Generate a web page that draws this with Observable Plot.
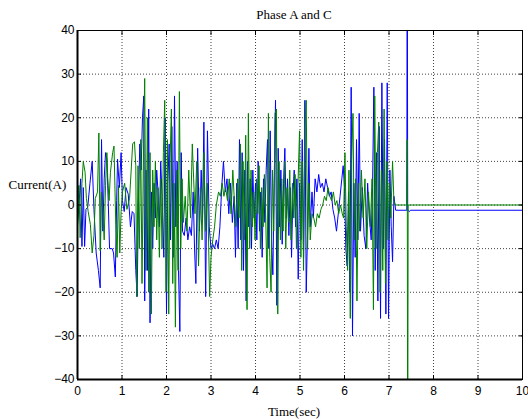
<!DOCTYPE html>
<html>
<head>
<meta charset="utf-8">
<script src="https://cdn.jsdelivr.net/npm/d3@7"></script>
<script src="https://cdn.jsdelivr.net/npm/@observablehq/plot@0.6"></script>
<style>
  html, body { margin: 0; padding: 0; background: #fff; }
  #chart svg { display: block; }
</style>
</head>
<body>
<div id="chart"></div>
<script>
const xTicks = [0, 1, 2, 3, 4, 5, 6, 7, 8, 9, 10];
const yTicks = [-40, -30, -20, -10, 0, 10, 20, 30, 40];

// Phase A (blue)
const timeA = [0.00,0.04,0.07,0.10,0.13,0.16,0.19,0.23,0.28,0.33,0.37,0.42,0.47,0.51,0.54,0.57,0.60,0.63,0.66,0.69,0.72,0.78,0.81,0.85,0.88,0.90,0.94,0.98,1.01,1.05,1.09,1.14,1.19,1.23,1.27,1.31,1.34,1.37,1.40,1.43,1.46,1.49,1.51,1.54,1.57,1.60,1.63,1.66,1.69,1.72,1.75,1.78,1.81,1.84,1.87,1.90,1.94,1.97,2.00,2.03,2.06,2.09,2.12,2.15,2.18,2.21,2.24,2.27,2.30,2.33,2.36,2.40,2.44,2.48,2.52,2.56,2.60,2.63,2.66,2.70,2.74,2.78,2.81,2.84,2.88,2.92,2.96,3.00,3.04,3.08,3.12,3.16,3.20,3.24,3.28,3.32,3.36,3.40,3.44,3.48,3.52,3.55,3.58,3.61,3.64,3.67,3.70,3.73,3.76,3.79,3.82,3.85,3.88,3.91,3.94,3.97,4.00,4.03,4.06,4.09,4.12,4.15,4.18,4.21,4.24,4.27,4.30,4.33,4.36,4.39,4.42,4.45,4.48,4.51,4.54,4.57,4.60,4.63,4.66,4.69,4.72,4.75,4.78,4.81,4.84,4.87,4.90,4.93,4.96,4.99,5.02,5.05,5.08,5.11,5.14,5.17,5.20,5.23,5.27,5.30,5.34,5.38,5.42,5.46,5.50,5.54,5.58,5.62,5.66,5.70,5.74,5.78,5.82,5.86,5.90,5.94,5.97,6.00,6.03,6.06,6.09,6.12,6.15,6.18,6.21,6.24,6.27,6.30,6.33,6.36,6.40,6.44,6.48,6.52,6.56,6.60,6.63,6.66,6.69,6.72,6.75,6.78,6.81,6.84,6.87,6.90,6.93,6.96,6.99,7.02,7.05,7.08,7.11,7.15,7.40,7.41,7.42,7.46,7.48,10];
const currentA = [-4.5,1,6,-9.5,4,-9.5,-1,-0.5,5,10,-1,-11,-15,-19,15,-6,6,12,10.5,1,-10,-10,-11,-16.5,1,10.5,4,12,1,-1.5,4,2.5,-5,-1.5,-2,-15,-21,1,14,8,20,25,-22,8,-15,22,-27,3,-10,5,-3,8,3,-5,10,2,-12,20,-25,5,14,-8,18,-12,25,-5,10,-15,-29,12,-6,-7,-3,-8,-5,-7,3,-10,-18,13,-6,8,-3,19,-21,17,-5,-10,-9,-10,-8,-10,-5,4,10,3,6,-2,5,-4,2,-12,5,-10,15,-8,12,-15,8,-22,10,-5,6,-10,8,-3,5,-8,10,-6,3,-12,6,-4,8,15,-10,17,-8,-16,5,24,-23,13,-5,8,-9,5,13,-3,6,-7,4,-12,2,8,-5,6,-17,5,-8,15,-12,24,-20,-6,13,-5,3,-3,6,3,7,4,5,3,6,4,2,3,-1,-3,-6,-2,2,6,9,4,-10,-14,3,-20,27,-30,5,-12,15,-8,21,-6,4,-7,-10,5,-3,-8,4,27,-15,12,-22,18,-26,28,-10,15,-25,28,-26,8,-5,-13,2,-1.2,-1.2,70,-1.2,-1.5,-1.2,-1.2];

// Phase C (green)
const timeC = [0.00,0.03,0.06,0.10,0.13,0.17,0.20,0.24,0.29,0.33,0.37,0.40,0.45,0.48,0.51,0.54,0.57,0.60,0.63,0.66,0.68,0.71,0.74,0.79,0.82,0.86,0.89,0.92,0.95,0.98,1.01,1.06,1.11,1.17,1.24,1.28,1.31,1.33,1.36,1.39,1.42,1.45,1.48,1.51,1.54,1.57,1.60,1.63,1.66,1.69,1.72,1.75,1.78,1.81,1.84,1.87,1.90,1.93,1.96,1.99,2.02,2.05,2.08,2.11,2.14,2.17,2.20,2.23,2.26,2.29,2.32,2.35,2.38,2.42,2.46,2.50,2.54,2.58,2.61,2.64,2.68,2.72,2.76,2.80,2.84,2.88,2.92,2.97,3.00,3.04,3.08,3.12,3.17,3.21,3.25,3.29,3.33,3.37,3.41,3.45,3.49,3.52,3.56,3.60,3.63,3.66,3.69,3.72,3.75,3.78,3.81,3.84,3.87,3.90,3.93,3.96,3.99,4.02,4.05,4.08,4.11,4.14,4.17,4.20,4.23,4.26,4.29,4.32,4.35,4.38,4.41,4.44,4.47,4.50,4.53,4.56,4.59,4.62,4.65,4.68,4.71,4.74,4.77,4.80,4.83,4.86,4.89,4.92,4.95,4.99,5.02,5.05,5.08,5.11,5.14,5.17,5.20,5.23,5.27,5.31,5.35,5.39,5.43,5.47,5.51,5.55,5.59,5.63,5.67,5.71,5.75,5.79,5.83,5.87,5.91,5.95,5.98,6.01,6.04,6.07,6.10,6.13,6.16,6.19,6.22,6.25,6.28,6.31,6.34,6.38,6.42,6.46,6.50,6.54,6.58,6.62,6.65,6.68,6.71,6.74,6.77,6.80,6.83,6.86,6.89,6.92,6.95,6.98,7.01,7.04,7.08,7.11,7.14,7.40,7.41,7.42,7.43,10];
const currentC = [-5,4.5,-7.5,5,10,7.5,1.5,-1.5,-4.5,-11,-7,1.5,3,16.5,-10.5,3,-1.5,-8,4.5,12,6,1,7.5,12,13.5,-4.5,-12,4.5,-11,-1.5,3,5,-1,1.5,14,14.5,9,-21,9,-10,15,-18,10,29,-15,20,-20,12,-25,8,-5,10,-8,4,-12,6,-10,12,24,-20,15,-25,10,22,-18,5,-28,8,-15,26,-10,6,-4,2,-6,8,-3,14,6,-2,10,-14,4,-8,12,-6,5,-21,-12,-8,-5,0,3,2,5,2,4,1,6,-2,8,2,-5,6,-3,14,-15,10,-8,16,-24,21,-10,8,-5,3,-8,6,-2,9,-10,4,-5,7,-3,-19,21,-12,-20,8,-6,21,22,-25,10,-8,6,-6,10,-10,4,-4,8,-8,5,-3,7,-10,3,17,-12,10,-15,18,24,-10,5,-8,-2,-3,-5,-2,-3,-1,0,2,1,4,2,1,3,0,1,-2,0,-2,-3,12,-5,-15,8,-26,10,21,-8,6,-22,5,-6,8,-3,6,-10,3,-5,6,-24,25,-10,12,19,-20,8,-15,22,-18,10,-8,5,-3,10,1,0,0,15,-70,0,0];

const dataA = timeA.map((t, i) => ({t, v: currentA[i]}));
const dataC = timeC.map((t, i) => ({t, v: currentC[i]}));

const sans = "'Liberation Sans', Arial, sans-serif";
const serif = "'Liberation Serif', 'Times New Roman', serif";

const chart = Plot.plot({
  width: 528,
  height: 419,
  marginLeft: 77,
  marginRight: 6,
  marginTop: 30,
  marginBottom: 40,
  style: {fontFamily: sans, fontSize: "12px", color: "black", background: "white"},
  x: {domain: [0, 10], ticks: xTicks},
  y: {domain: [-40, 40], ticks: yTicks},
  marks: [
    Plot.gridX(xTicks, {stroke: "#000", strokeOpacity: 0.75, strokeDasharray: "1,2"}),
    Plot.gridY(yTicks, {stroke: "#000", strokeOpacity: 0.75, strokeDasharray: "1,2"}),
    Plot.line(dataA, {x: "t", y: "v", stroke: "#0000ff", strokeWidth: 1, clip: true}),
    Plot.line(dataC, {x: "t", y: "v", stroke: "#008000", strokeWidth: 1, clip: true}),
    Plot.frame({stroke: "#000", strokeWidth: 1}),
    Plot.ruleX([0], {stroke: "#000", strokeWidth: 2}),
    Plot.ruleY([-40], {stroke: "#000", strokeWidth: 2}),
    Plot.axisX(xTicks, {anchor: "bottom", tickSize: -4, tickPadding: 11, label: null, fontSize: 12}),
    Plot.axisX(xTicks, {anchor: "top", tickSize: -4, tickFormat: () => "", label: null}),
    Plot.axisY(yTicks, {anchor: "left", tickSize: -4, tickPadding: 7, label: null, fontSize: 12}),
    Plot.axisY(yTicks, {anchor: "right", tickSize: -4, tickFormat: () => "", label: null}),
    Plot.text(["Phase A and C"], {frameAnchor: "top", dy: -16, dx: -6, fontFamily: serif, fontSize: 13, lineAnchor: "middle"}),
    Plot.text(["Time(sec)"], {frameAnchor: "bottom", dy: 32, dx: -6, fontFamily: serif, fontSize: 13, lineAnchor: "middle"}),
    Plot.text(["Current(A)"], {frameAnchor: "left", dx: -69, dy: -20, textAnchor: "start", fontFamily: serif, fontSize: 13, lineAnchor: "middle"})
  ]
});
document.getElementById("chart").appendChild(chart);
</script>
</body>
</html>
